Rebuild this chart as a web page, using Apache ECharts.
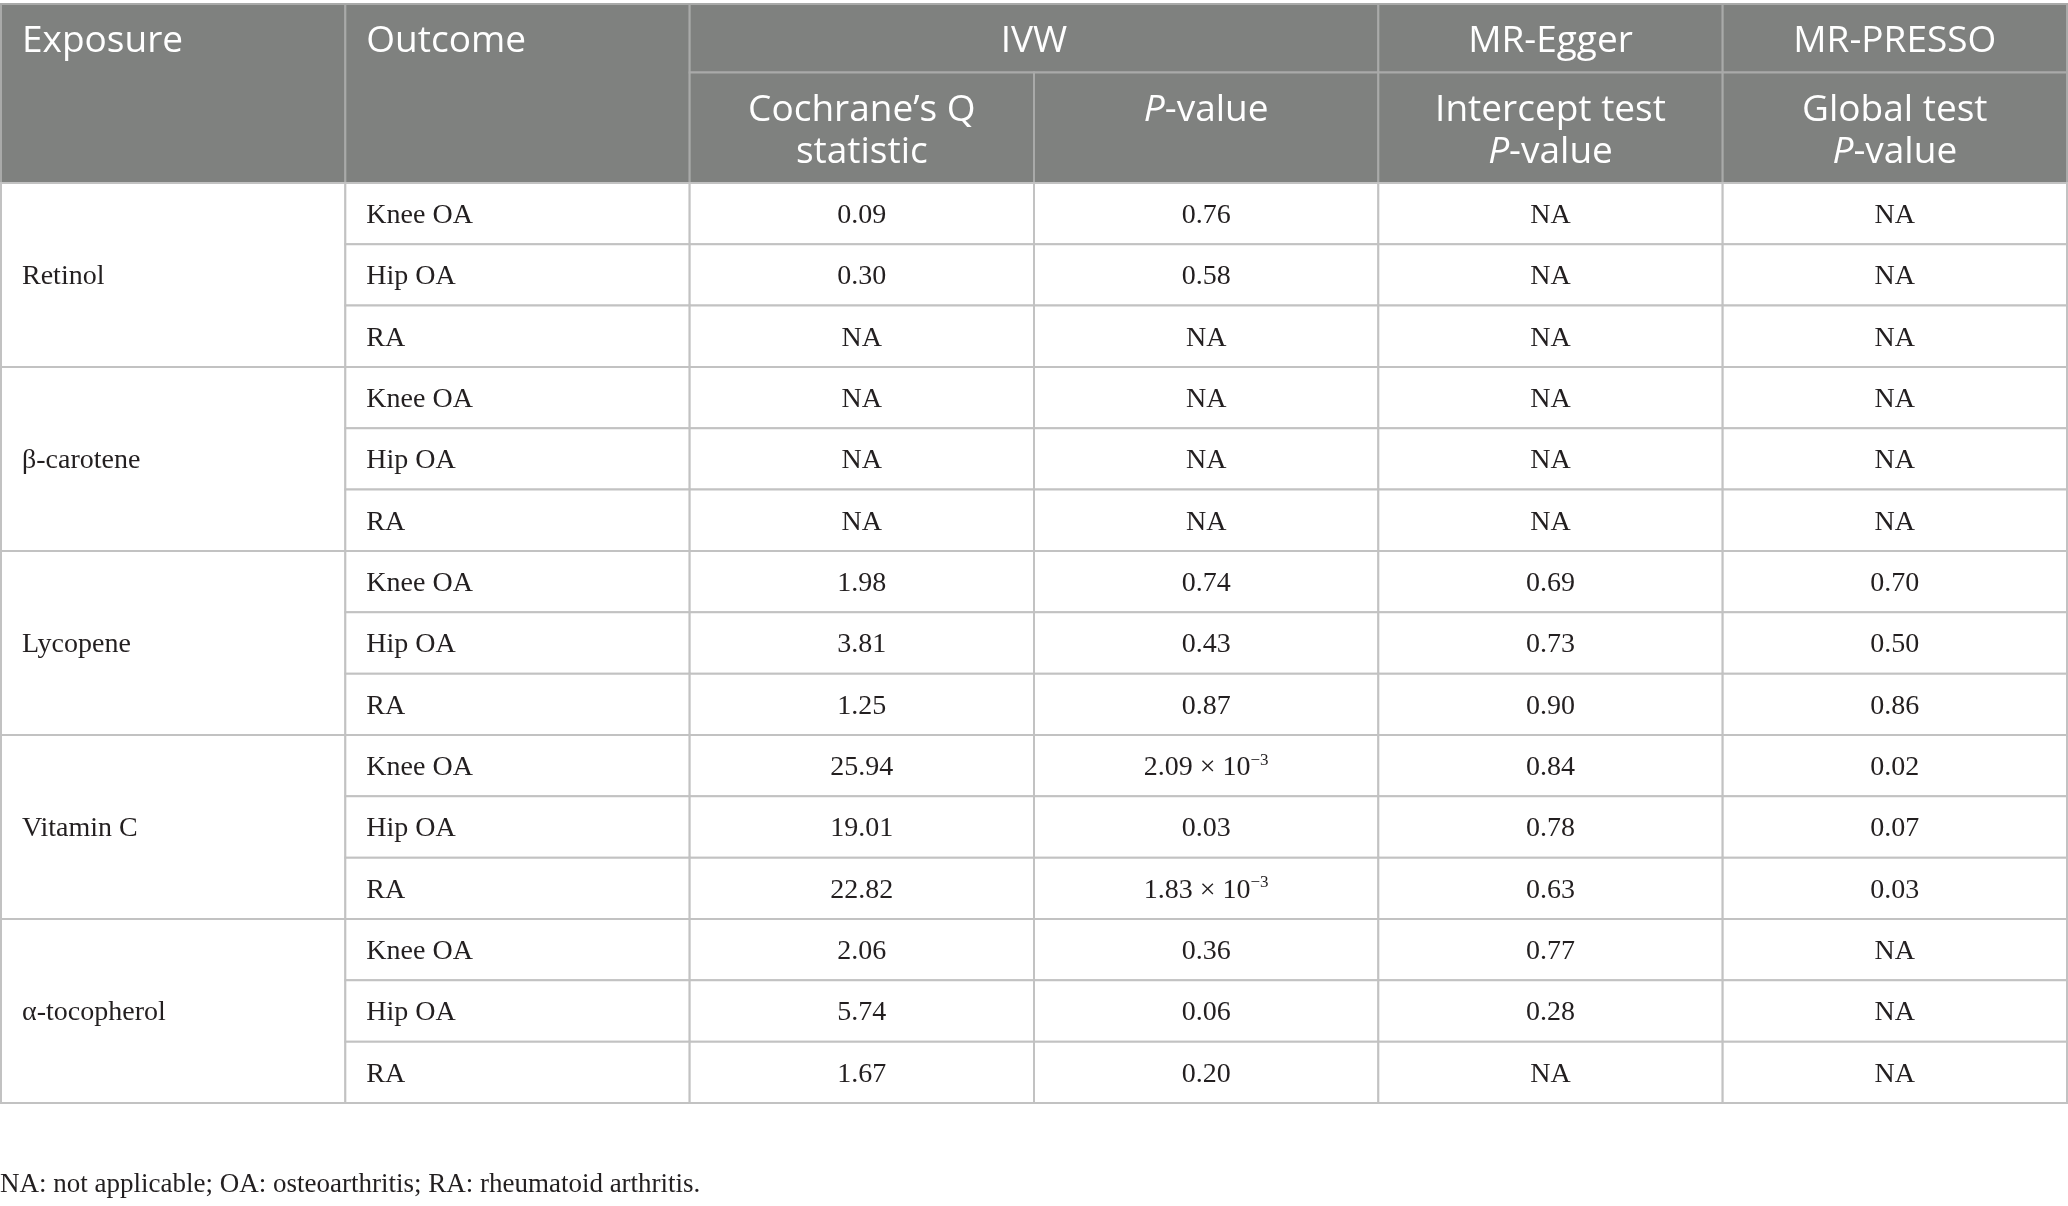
<!DOCTYPE html>
<html>
<head>
<meta charset="utf-8">
<title>Heterogeneity and pleiotropy tests</title>
<script src="https://cdn.jsdelivr.net/npm/echarts@6/dist/echarts.min.js"></script>
<style>
html, body { margin: 0; padding: 0; background: #fff; }
#container { width: 2068px; height: 1206px; }
</style>
</head>
<body>
<div id="container"></div>
<script>
var exposures = ['Retinol', 'β-carotene', 'Lycopene', 'Vitamin C', 'α-tocopherol'];
var outcomes = ['Knee OA', 'Hip OA', 'RA'];
// one value per row (exposure x outcome), null = NA
var cochraneQ = [0.09, 0.30, null, null, null, null, 1.98, 3.81, 1.25, 25.94, 19.01, 22.82, 2.06, 5.74, 1.67];
var ivwP = [0.76, 0.58, null, null, null, null, 0.74, 0.43, 0.87, 2.09e-3, 0.03, 1.83e-3, 0.36, 0.06, 0.20];
var eggerP = [null, null, null, null, null, null, 0.69, 0.73, 0.90, 0.84, 0.78, 0.63, 0.77, 0.28, null];
var pressoP = [null, null, null, null, null, null, 0.70, 0.50, 0.86, 0.02, 0.07, 0.03, null, null, null];
var groupHeaders = ['IVW', 'MR-Egger', 'MR-PRESSO'];
var subHeaders = ['Cochrane’s Q\nstatistic', '{i|P}-value', 'Intercept test\n{i|P}-value', 'Global test\n{i|P}-value'];
var footnote = 'NA: not applicable; OA: osteoarthritis; RA: rheumatoid arthritis.';

var headH = [1.117, 1.8];   // header row heights, in body-row units
var H1 = headH[0], H2 = headH[0] + headH[1];
var nRows = exposures.length * outcomes.length;

function fmt(v) {
    if (v === null) return 'NA';
    if (v < 0.01) {
        var e = Math.floor(Math.log10(v));
        var m = v / Math.pow(10, e);
        return m.toFixed(2) + ' × 10{sup|−' + (-e) + '}';
    }
    return v.toFixed(2);
}

// cells: x0, y0, x1, y1 in table units + text info
var cells = [];
function add(x0, y0, x1, y1, text, kind, align, ty) {
    cells.push({ v: [x0, y0, x1, y1], text: text, kind: kind, align: align, ty: ty });
}
add(0, 0, 1, H2, 'Exposure', 'h1', 'left', H1 / 2);
add(1, 0, 2, H2, 'Outcome', 'h1', 'left', H1 / 2);
add(2, 0, 4, H1, groupHeaders[0], 'h1', 'center', H1 / 2);
add(4, 0, 5, H1, groupHeaders[1], 'h1', 'center', H1 / 2);
add(5, 0, 6, H1, groupHeaders[2], 'h1', 'center', H1 / 2);
subHeaders.forEach(function (t, i) {
    add(2 + i, H1, 3 + i, H2, t, 'h2', 'center', H1);
});
exposures.forEach(function (ex, g) {
    var y0 = H2 + g * outcomes.length;
    add(0, y0, 1, y0 + outcomes.length, ex, 'b', 'left', y0 + outcomes.length / 2);
    outcomes.forEach(function (oc, k) {
        var r = g * outcomes.length + k;
        var y = H2 + r;
        add(1, y, 2, y + 1, oc, 'b', 'left', y + 0.5);
        [cochraneQ, ivwP, eggerP, pressoP].forEach(function (arr, c) {
            add(2 + c, y, 3 + c, y + 1, fmt(arr[r]), 'b', 'center', y + 0.5);
        });
    });
});

var sansFont = '"Open Sans", sans-serif';
var serifFont = '"Liberation Serif", "Times New Roman", serif';

var chart = echarts.init(document.getElementById('container'));
var option = {
    animation: false,
    title: {
        text: footnote,
        left: 0,
        top: 1171,
        padding: 0,
        textStyle: { fontFamily: serifFont, fontSize: 27, fontWeight: 'normal', color: '#231f20' }
    },
    grid: { left: 1, right: 1, top: 4, height: 1099 },
    xAxis: { type: 'value', min: 0, max: 6, show: false },
    yAxis: { type: 'value', min: 0, max: H2 + nRows, inverse: true, show: false },
    series: [{
        type: 'custom',
        coordinateSystem: 'cartesian2d',
        clip: false,
        data: cells.map(function (c) { return c.v; }),
        renderItem: function (params, api) {
            var c = cells[params.dataIndex];
            var p0 = api.coord([api.value(0), api.value(1)]);
            var p1 = api.coord([api.value(2), api.value(3)]);
            var head = c.kind !== 'b';
            var tx = c.align === 'left' ? p0[0] + 21 : (p0[0] + p1[0]) / 2;
            var ty = api.coord([0, c.ty])[1];
            var textStyle;
            if (head) {
                textStyle = {
                    text: c.text,
                    x: tx,
                    y: c.kind === 'h2' ? ty + 17 : ty + 3,
                    align: c.align,
                    verticalAlign: c.kind === 'h2' ? 'top' : 'middle',
                    fill: '#ffffff',
                    fontFamily: sansFont,
                    fontSize: 37,
                    lineHeight: 42,
                    rich: {
                        i: { fontFamily: sansFont, fontSize: 37, fontStyle: 'italic', fill: '#ffffff', lineHeight: 42 }
                    }
                };
            } else {
                textStyle = {
                    text: c.text,
                    x: tx,
                    y: ty + 2,
                    align: c.align,
                    verticalAlign: 'middle',
                    fill: '#231f20',
                    fontFamily: serifFont,
                    fontSize: 28,
                    lineHeight: 32,
                    rich: {
                        sup: { fontFamily: serifFont, fontSize: 17, lineHeight: 17, verticalAlign: 'top', fill: '#231f20' }
                    }
                };
            }
            return {
                type: 'group',
                children: [{
                    type: 'rect',
                    shape: { x: p0[0], y: p0[1], width: p1[0] - p0[0], height: p1[1] - p0[1] },
                    style: {
                        fill: head ? '#7f817f' : '#ffffff',
                        stroke: head ? '#a9aaa9' : '#c2c2c2',
                        lineWidth: 2
                    }
                }, {
                    type: 'text',
                    style: textStyle
                }]
            };
        }
    }]
};
chart.setOption(option);
</script>
</body>
</html>
